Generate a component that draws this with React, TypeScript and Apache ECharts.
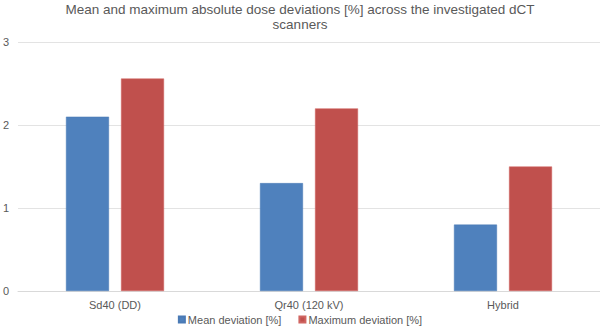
import React, { useEffect, useRef } from "react";
import * as echarts from "echarts";

const categories = ["Sd40 (DD)", "Qr40 (120 kV)", "Hybrid"];
const meanDeviation = [2.1, 1.3, 0.8];
const maxDeviation = [2.56, 2.2, 1.5];
const titleText = "Mean and maximum absolute dose deviations [%] across the investigated dCT\nscanners";

export default function App() {
  const ref = useRef<HTMLDivElement>(null);
  useEffect(() => {
    if (!ref.current) return;
    const chart = echarts.init(ref.current, undefined, { renderer: "svg" });
    const font = "Liberation Sans";
    chart.setOption({
      animation: false,
      backgroundColor: "#ffffff",
      title: {
        text: titleText,
        left: "center",
        top: 0,
        padding: [2, 5, 5, 5],
        textStyle: {
          fontFamily: font,
          fontSize: 13.5,
          fontWeight: "normal",
          color: "#595959",
          lineHeight: 15,
        },
      },
      legend: {
        bottom: 0,
        left: "center",
        itemWidth: 6,
        itemHeight: 6,
        itemGap: 17,
        icon: "rect",
        textStyle: { fontFamily: font, fontSize: 11, color: "#595959", padding: [0, 0, 0, -2] },
        data: ["Mean deviation [%]", "Maximum deviation [%]"],
      },
      grid: { left: 18, right: 0, top: 42, bottom: 39, containLabel: false, outerBoundsMode: "none" },
      xAxis: {
        type: "category",
        data: categories,
        axisLine: { show: true, lineStyle: { color: "#d9d9d9" } },
        axisTick: { show: false },
        axisLabel: { fontFamily: font, fontSize: 11, color: "#595959", margin: 8 },
      },
      yAxis: {
        type: "value",
        min: 0,
        max: 3,
        interval: 1,
        axisLine: { show: false },
        axisTick: { show: false },
        axisLabel: { fontFamily: font, fontSize: 11, color: "#595959", margin: 9, align: "right" },
        splitLine: { lineStyle: { color: "#e3e3e3" } },
      },
      series: [
        {
          name: "Mean deviation [%]",
          type: "bar",
          data: meanDeviation,
          barWidth: 43,
          barGap: "28%",
          itemStyle: { color: "#4F81BD", borderColor: "#4a7ab5", borderWidth: 0.5 },
        },
        {
          name: "Maximum deviation [%]",
          type: "bar",
          data: maxDeviation,
          barWidth: 43,
          barGap: "28%",
          itemStyle: { color: "#C0504D", borderColor: "#d06561", borderWidth: 0.5 },
        },
      ],
    });
    return () => chart.dispose();
  }, []);
  return (
    <div
      ref={ref}
      style={{ position: "fixed", left: 0, top: 0, width: 600, height: 330 }}
    />
  );
}
